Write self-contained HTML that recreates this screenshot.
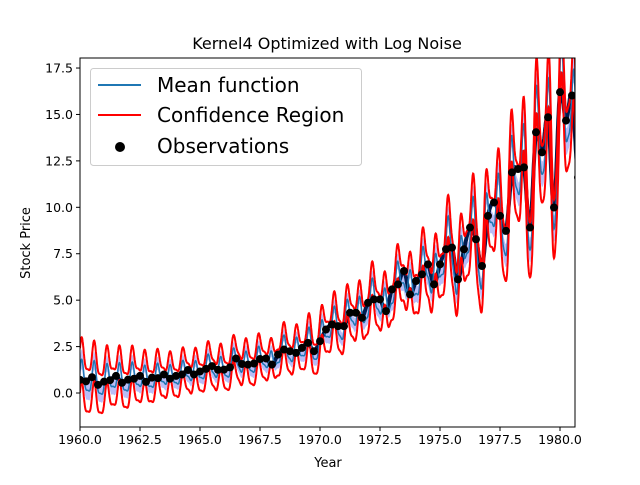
<!DOCTYPE html>
<html><head><meta charset="utf-8"><style>
body{margin:0;background:#fff;font-family:"Liberation Sans","DejaVu Sans",sans-serif}
svg text{font-family:"DejaVu Sans","Liberation Sans",sans-serif}
</style></head><body>
<svg id="c" width="640" height="480" xmlns="http://www.w3.org/2000/svg"></svg>
<script>
const quarters = [1960,1961,1962,1963,1964,1965,1966,1967,1968,1969,1970,1971,1972,1973,1974,1975,1976,1977,1978,1979,1980];
const observations = [
0.71,0.63,0.85,0.44, 0.61,0.69,0.92,0.55, 0.72,0.77,0.92,0.60, 0.83,0.80,1.00,0.77,
0.92,1.00,1.24,1.00, 1.16,1.30,1.45,1.25, 1.26,1.38,1.86,1.56, 1.53,1.59,1.83,1.86,
1.53,2.07,2.34,2.25, 2.16,2.43,2.70,2.25, 2.79,3.42,3.69,3.60, 3.60,4.32,4.32,4.05,
4.86,5.04,5.04,4.41, 5.58,5.85,6.57,5.31, 6.03,6.39,6.93,5.85, 6.93,7.74,7.83,6.12,
7.74,8.91,8.28,6.84, 9.54,10.26,9.54,8.73, 11.88,12.06,12.15,8.91, 14.04,12.96,14.85,9.99,
16.20,14.67,16.02,11.61];
const wiggleAmp = [1.1,0.9,0.9,0.8,0.7,0.7,0.7,0.7,0.7,0.8,0.9,1.0,1.1,1.2,1.3,1.5,1.7,1.9,2.1,2.3,2.5];
const bandHalf = [1.2,1.0,0.9,0.8,0.7,0.7,0.7,0.7,0.7,0.7,0.8,0.8,0.9,0.9,1.0,1.1,1.2,1.3,1.4,1.5,1.6];
const xTicks = [1960,1962.5,1965,1967.5,1970,1972.5,1975,1977.5,1980];
const yTicks = [0,2.5,5,7.5,10,12.5,15,17.5];

const L=80,R=575,T=58,B=427, X0=1960,X1=1980.625,Y0=-1.83,Y1=18.04;
const sx=v=>L+(v-X0)/(X1-X0)*(R-L), sy=v=>B-(v-Y0)/(Y1-Y0)*(B-T);
const svg=document.getElementById('c'), NS='http://www.w3.org/2000/svg';
function el(t,a,p){const e=document.createElementNS(NS,t);for(const k in a)e.setAttribute(k,a[k]);(p||svg).appendChild(e);return e;}
const tOf=i=>1960+i*0.25;
function base(t){let f=(t-1960)/0.25;let i=Math.floor(f);const n=observations.length;
 const g=k=>observations[Math.max(0,Math.min(n-1,k))];let u=f-i;
 const p0=g(i-1),p1=g(i),p2=g(i+1),p3=g(i+2);
 return 0.5*((2*p1)+(-p0+p2)*u+(2*p0-5*p1+4*p2-p3)*u*u+(-p0+3*p1-3*p2+p3)*u*u*u);}
function yr(arr,t){let f=Math.max(0,Math.min(arr.length-1,t-1960));let i=Math.floor(f);let j=Math.min(arr.length-1,i+1);return arr[i]+(arr[j]-arr[i])*(f-i);}
const mean=t=>base(t)+yr(wiggleAmp,t)*(0.8*Math.sin(2*Math.PI*1.9*(t-1960)+0.6)+0.25*Math.sin(2*Math.PI*3.8*(t-1960)));
const ts=[];for(let t=1960;t<=1980.75;t+=0.01)ts.push(t);
const clip=el('clipPath',{id:'cp'});el('rect',{x:L,y:T,width:R-L,height:B-T},clip);
const g=el('g',{'clip-path':'url(#cp)'});
let up=ts.map(t=>[sx(t),sy(mean(t)+0.45*yr(bandHalf,t))]),lo=ts.map(t=>[sx(t),sy(mean(t)-0.45*yr(bandHalf,t))]).reverse();
const fill=el('path',{d:'M'+up.concat(lo).map(p=>p[0].toFixed(1)+','+p[1].toFixed(1)).join('L')+'Z',fill:'#b9bdf7',stroke:'none'},g);

function line(f,col,w,name){const d='M'+ts.map(t=>sx(t).toFixed(1)+','+sy(f(t)).toFixed(1)).join('L');const p=el('path',{d,fill:'none',stroke:col,'stroke-width':w},g);
 }
line(base,'#001a4d',4,'posterior-mean-dark');
line(mean,'#1f77b4',1.5,'mean-function-line');
line(t=>mean(t)+yr(bandHalf,t),'#ff0000',2,'confidence-upper');
line(t=>mean(t)-yr(bandHalf,t),'#ff0000',2,'confidence-lower');
observations.forEach((v,i)=>{const c=el('circle',{cx:sx(tOf(i)),cy:sy(v),r:4,fill:'#000'},g);
 });
el('rect',{x:L,y:T,width:R-L,height:B-T,fill:'none',stroke:'#000','stroke-width':1});
xTicks.forEach(v=>{const x=sx(v);el('line',{x1:x,x2:x,y1:B,y2:B+4,stroke:'#000'});
 const tx=el('text',{x,y:B+17,'text-anchor':'middle','font-size':12.5});tx.textContent=v.toFixed(1);
 });
yTicks.forEach(v=>{const y=sy(v);el('line',{x1:L-4,x2:L,y1:y,y2:y,stroke:'#000'});
 const tx=el('text',{x:L-7,y:y+4.5,'text-anchor':'end','font-size':12.5});tx.textContent=v.toFixed(1);
 });
</script>
<svg width="640" height="480" style="position:absolute;left:0;top:0" xmlns="http://www.w3.org/2000/svg">
<text x="327" y="49" text-anchor="middle" font-size="16">Kernel4 Optimized with Log Noise</text>
<text x="328" y="467" text-anchor="middle" font-size="13">Year</text>
<text x="30" y="243" text-anchor="middle" font-size="13" transform="rotate(-90 30 243)">Stock Price</text>
<g>
<rect x="90.5" y="68.5" width="271" height="97" rx="3" fill="#fff" fill-opacity="0.85" stroke="#ccc"/>
<line x1="98" x2="141" y1="85" y2="85" stroke="#1f77b4" stroke-width="2"/>
<text x="157" y="92" font-size="20">Mean function</text>
<line x1="98" x2="141" y1="115" y2="115" stroke="#ff0000" stroke-width="2"/>
<text x="157" y="122" font-size="20">Confidence Region</text>
<circle cx="120" cy="147" r="5" fill="#000"/>
<text x="157" y="153" font-size="20">Observations</text>
</g>
</svg>
</body></html>
